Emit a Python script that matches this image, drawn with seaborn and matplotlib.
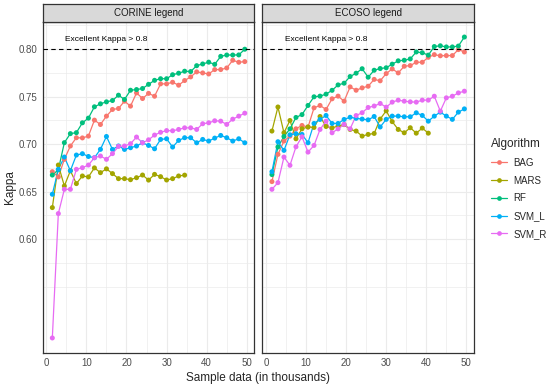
import numpy as np
import pandas as pd
import seaborn as sns
import matplotlib
matplotlib.use('Agg')
import matplotlib.pyplot as plt
from matplotlib.lines import Line2D

# sample sizes (thousands)
sample_k = [1.5, 3, 4.5, 6, 7.5, 9, 10.5, 12, 13.5, 15, 16.5, 18, 19.5, 21, 22.5,
            24, 25.5, 27, 28.5, 30, 31.5, 33, 34.5, 36, 37.5, 39, 40.5, 42, 43.5,
            45, 46.5, 48, 49.5]

algorithms = ['BAG', 'MARS', 'RF', 'SVM_L', 'SVM_R']
panels = ['CORINE legend', 'ECOSO legend']
colors = ['#F8766D', '#A3A500', '#00BF7D', '#00B0F6', '#E76BF3']

# CORINE legend
corine_bag = [0.671, 0.6655, 0.684, 0.698, 0.7067, 0.7065, 0.7084, 0.7252, 0.7206, 0.7294,
              0.7364, 0.7374, 0.7451, 0.7399, 0.7538, 0.7479, 0.7533, 0.7503, 0.7633, 0.7633,
              0.765, 0.7619, 0.7668, 0.7706, 0.7759, 0.7748, 0.7737, 0.7783, 0.7783, 0.780,
              0.7881, 0.786, 0.7867]
corine_mars = [0.6333, 0.678, 0.656, 0.672, 0.6585, 0.6665, 0.6655, 0.675, 0.670, 0.674,
               0.669, 0.6637, 0.6637, 0.6626, 0.6647, 0.6675, 0.6622, 0.6682, 0.6658, 0.6623,
               0.6637, 0.6665, 0.6674]
corine_rf = [0.6675, 0.673, 0.7015, 0.711, 0.712, 0.7224, 0.7273, 0.7392, 0.7423, 0.7444,
             0.7458, 0.7514, 0.7469, 0.7566, 0.7573, 0.7584, 0.7628, 0.767, 0.7687, 0.7687,
             0.7729, 0.7745, 0.7766, 0.7762, 0.7824, 0.7842, 0.7861, 0.7838, 0.7922, 0.7936,
             0.7936, 0.7937, 0.7997]
corine_svml = [0.6473, 0.6735, 0.6864, 0.672, 0.6885, 0.6899, 0.687, 0.6857, 0.6945, 0.708,
               0.6944, 0.698, 0.6944, 0.6962, 0.698, 0.7014, 0.6986, 0.6951, 0.7049, 0.7056,
               0.6969, 0.7039, 0.7067, 0.7067, 0.7014, 0.7049, 0.7032, 0.7063, 0.7091, 0.7067,
               0.7032, 0.7056, 0.7014]
corine_svmr = [0.4963, 0.627, 0.6525, 0.6525, 0.6735, 0.6752, 0.678, 0.6857, 0.6875, 0.684,
               0.690, 0.6976, 0.698, 0.7004, 0.7074, 0.7014, 0.7045, 0.7095, 0.7124, 0.7142,
               0.714, 0.7154, 0.7171, 0.7171, 0.7154, 0.7214, 0.7224, 0.7245, 0.7241, 0.7207,
               0.7262, 0.7294, 0.7325]

# ECOSO legend
ecoso_bag = [0.6606, 0.6892, 0.7032, 0.7084, 0.7161, 0.7196, 0.7179, 0.7381, 0.7406, 0.7364,
             0.7476, 0.7504, 0.7451, 0.7601, 0.7566, 0.7591, 0.7608, 0.768, 0.7665, 0.7741,
             0.779, 0.7748, 0.7818, 0.7825, 0.786, 0.786, 0.7912, 0.794, 0.7928, 0.793,
             0.793, 0.7993, 0.7968]
ecoso_mars = [0.7137, 0.739, 0.7119, 0.7248, 0.7056, 0.7161, 0.718, 0.7175, 0.729, 0.7185,
              0.717, 0.719, 0.7205, 0.7154, 0.7137, 0.7084, 0.7102, 0.7112, 0.7263, 0.735,
              0.7236, 0.7154, 0.7119, 0.7172, 0.7115, 0.7168, 0.7115]
ecoso_rf = [0.668, 0.697, 0.708, 0.716, 0.728, 0.731, 0.7406, 0.7497, 0.7504, 0.7525,
            0.7565, 0.7622, 0.764, 0.771, 0.7745, 0.7792, 0.7703, 0.7776, 0.7794, 0.7802,
            0.784, 0.7875, 0.7881, 0.7895, 0.7968, 0.796, 0.7935, 0.8025, 0.8033, 0.8021,
            0.8021, 0.803, 0.8125]
ecoso_svml = [0.671, 0.7025, 0.6934, 0.7098, 0.7109, 0.7102, 0.7014, 0.7217, 0.7259, 0.7301,
              0.7217, 0.7217, 0.7259, 0.7282, 0.7271, 0.7263, 0.7255, 0.729, 0.718, 0.726,
              0.7294, 0.7294, 0.7287, 0.7287, 0.7329, 0.7301, 0.7241, 0.7294, 0.7336, 0.7294,
              0.726, 0.7336, 0.737]
ecoso_svmr = [0.6525, 0.6595, 0.6864, 0.6777, 0.6972, 0.7077, 0.6916, 0.6986, 0.7154, 0.7241,
              0.7119, 0.716, 0.7207, 0.716, 0.730, 0.733, 0.7385, 0.740, 0.7427, 0.7388,
              0.7441, 0.7462, 0.7451, 0.7444, 0.7441, 0.7462, 0.7462, 0.7503, 0.7346, 0.7486,
              0.7503, 0.7538, 0.7556]

series = {
    'CORINE legend': [corine_bag, corine_mars, corine_rf, corine_svml, corine_svmr],
    'ECOSO legend': [ecoso_bag, ecoso_mars, ecoso_rf, ecoso_svml, ecoso_svmr],
}

rows = []
for panel in panels:
    for algo, vals in zip(algorithms, series[panel]):
        for x, v in zip(sample_k, vals):
            rows.append((panel, algo, x, v))
df = pd.DataFrame(rows, columns=['legend', 'Algorithm', 'sample', 'kappa'])

sns.set_style('white')
plt.rcParams['font.family'] = ['Liberation Sans', 'DejaVu Sans']

W, H = 550, 387
fig = plt.figure(figsize=(W / 100, H / 100), dpi=100)

pal = dict(zip(algorithms, colors))
panel_lefts = [42.7, 262.3]
panel_w = 211.7
panel_top, panel_bot = 22, 353
strip_top = 4
ylim = (0.4805, 0.8283)
xlim = (-0.9, 51.9)
border = '#333333'

for i, panel in enumerate(panels):
    left = panel_lefts[i]
    ax = fig.add_axes([left / W, 1 - panel_bot / H, panel_w / W, (panel_bot - panel_top) / H])
    sub = df[df['legend'] == panel]
    sns.lineplot(data=sub, x='sample', y='kappa', hue='Algorithm', hue_order=algorithms,
                 palette=pal, lw=0.9, legend=False, ax=ax, zorder=2)
    sns.scatterplot(data=sub, x='sample', y='kappa', hue='Algorithm', hue_order=algorithms,
                    palette=pal, s=13, linewidth=0, legend=False, ax=ax, zorder=3)
    ax.axhline(0.80, color='black', lw=0.8, linestyle=(0, (4, 3)), zorder=4)
    ax.text(15, 0.8097, 'Excellent Kappa > 0.8', ha='center', va='center', fontsize=6,
            color='black')
    ax.set_xlim(*xlim)
    ax.set_ylim(*ylim)
    ax.set_xticks([0, 10, 20, 30, 40, 50])
    ax.set_xticks([5, 15, 25, 35, 45], minor=True)
    ax.set_yticks([0.60, 0.65, 0.70, 0.75, 0.80])
    ax.set_yticks([0.55, 0.575, 0.625, 0.675, 0.725, 0.775, 0.825], minor=True)
    ax.grid(which='major', color='#EBEBEB', lw=0.8, zorder=0)
    ax.grid(which='minor', color='#EBEBEB', lw=0.5, zorder=0)
    ax.set_axisbelow(True)
    ax.tick_params(which='major', direction='out', length=2.2, width=0.6, color=border,
                   labelsize=7, labelcolor='#4D4D4D', pad=1.5)
    ax.tick_params(which='minor', length=0)
    ax.set_xlabel('')
    ax.set_ylabel('')
    if i == 0:
        ax.yaxis.set_major_formatter(matplotlib.ticker.FormatStrFormatter('%.2f'))
    else:
        ax.tick_params(axis='y', which='both', left=False, labelleft=False)
    for sp in ax.spines.values():
        sp.set_color(border)
        sp.set_linewidth(0.9)

    sax = fig.add_axes([left / W, 1 - panel_top / H, panel_w / W, (panel_top - strip_top) / H])
    sax.set_facecolor('#D9D9D9')
    sax.set_xticks([])
    sax.set_yticks([])
    for sp in sax.spines.values():
        sp.set_color(border)
        sp.set_linewidth(0.9)
    sax.text(0.5, 0.5, panel, ha='center', va='center', fontsize=7, color='#1A1A1A',
             transform=sax.transAxes)

fig.text(258 / W, 1 - 378 / H, 'Sample data (in thousands)', ha='center', va='center',
         fontsize=8.5)
fig.text(10 / W, 1 - 187.5 / H, 'Kappa', ha='center', va='center', rotation=90,
         fontsize=8.5)

handles = [Line2D([0], [0], color=c, lw=0.9, marker='o', markersize=3.4, markeredgewidth=0)
           for c in colors]
fig.legend(handles, algorithms, title='Algorithm', loc='upper left',
           bbox_to_anchor=(491 / W, 1 - 138 / H), frameon=False, fontsize=7,
           title_fontsize=8.5, handlelength=1.6, handletextpad=0.7, labelspacing=0.8,
           alignment='left', borderpad=0, borderaxespad=0)

fig.savefig('out.png', dpi=100)
